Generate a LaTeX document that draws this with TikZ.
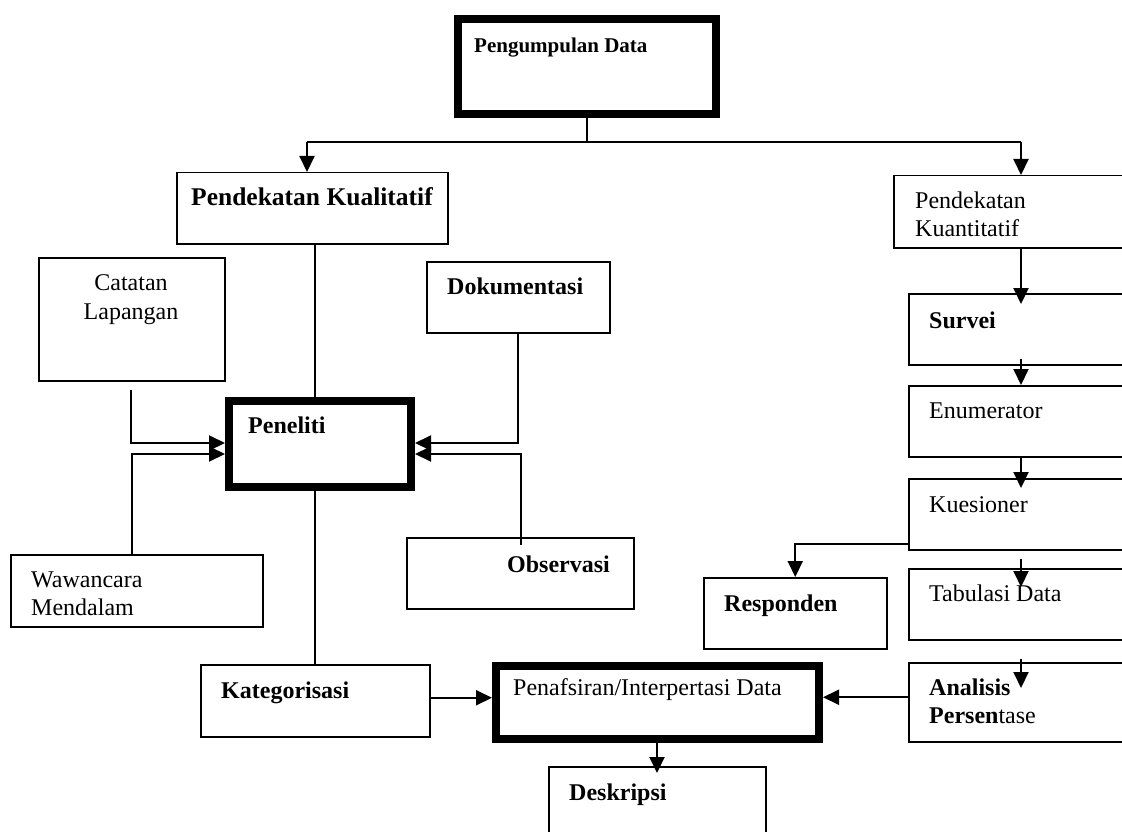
\documentclass[tikz,border=0pt]{standalone}
\usepackage{fontspec}
\setmainfont{Liberation Serif}
\usetikzlibrary{arrows.meta,calc}
\begin{document}
\begin{tikzpicture}[x=1pt,y=-1pt,
  box/.style={draw, line width=1.5pt, anchor=north west, inner sep=0pt},
  thickbox/.style={draw, line width=8pt, anchor=north west, inner sep=0pt},
  txt/.style={anchor=base west, inner sep=0pt, font=\fontsize{24}{28}\selectfont},
  btxt/.style={anchor=base west, inner sep=0pt, font=\fontsize{24}{28}\selectfont\bfseries},
  conn/.style={line width=2pt},
  arr/.style={line width=2pt, -{Triangle[length=16pt,width=15pt]}},
]
\fill[white] (0,0) rectangle (1122,832);
\useasboundingbox (0,0) rectangle (1122,832);

% boxes
\node[thickbox, minimum width=258pt, minimum height=95pt] (pd) at (454,15) {};
\node[box, minimum width=271pt, minimum height=71pt] (kual) at (176,172) {};
\node[box, minimum width=250pt, minimum height=72pt] (kuan) at (893,175) {};
\node[box, minimum width=235pt, minimum height=71pt] (survei) at (908,293) {};
\node[box, minimum width=235pt, minimum height=71pt] (enum) at (908,385) {};
\node[box, minimum width=235pt, minimum height=71pt] (kues) at (908,478) {};
\node[box, minimum width=235pt, minimum height=71pt] (tab) at (908,568) {};
\node[box, minimum width=235pt, minimum height=79pt] (ana) at (908,662) {};
\node[box, minimum width=183pt, minimum height=71pt] (resp) at (703,577) {};
\node[thickbox, minimum width=323pt, minimum height=73pt] (penaf) at (492,662) {};
\node[box, minimum width=217pt, minimum height=90pt] (desk) at (548,766) {};
\node[box, minimum width=229pt, minimum height=72pt] (kateg) at (200,664) {};
\node[thickbox, minimum width=182pt, minimum height=86pt] (pen) at (225,397) {};
\node[box, minimum width=186pt, minimum height=123pt] (cat) at (38,257) {};
\node[box, minimum width=252pt, minimum height=72pt] (waw) at (10,554) {};
\node[box, minimum width=183pt, minimum height=71pt] (dok) at (426,261) {};
\node[box, minimum width=227pt, minimum height=71pt] (obs) at (406,537) {};

% texts
\node[btxt, font=\fontsize{21}{24}\selectfont\bfseries] (t-pd) at (474,53) {Pengumpulan Data};
\node[btxt, font=\fontsize{25.5}{28}\selectfont\bfseries] (t-kual) at (191,205) {Pendekatan Kualitatif};
\node[txt] (t-kuan1) at (915,208) {Pendekatan};
\node[txt] (t-kuan2) at (915,236) {Kuantitatif};
\node[btxt] (t-survei) at (929,328) {Survei};
\node[txt] (t-enum) at (929,418) {Enumerator};
\node[txt] (t-kues) at (929,512) {Kuesioner};
\node[txt] (t-tab) at (929,601) {Tabulasi Data};
\node[btxt] (t-ana1) at (929,695) {Analisis};
\node[txt] (t-ana2) at (929,723) {{\bfseries Persen}tase};
\node[btxt] (t-resp) at (724,611) {Responden};
\node[txt] (t-penaf) at (513,695) {Penafsiran/Interpertasi Data};
\node[btxt] (t-desk) at (569,800) {Deskripsi};
\node[btxt] (t-kateg) at (221,698) {Kategorisasi};
\node[btxt] (t-pen) at (248,433) {Peneliti};
\node[txt, anchor=base] (t-cat1) at (131,290) {Catatan};
\node[txt, anchor=base] (t-cat2) at (131,319) {Lapangan};
\node[txt] (t-waw1) at (31,587) {Wawancara};
\node[txt] (t-waw2) at (31,615) {Mendalam};
\node[btxt] (t-dok) at (447,294) {Dokumentasi};
\node[btxt] (t-obs) at (507,572) {Observasi};

% helper coordinates
\coordinate (hl) at (307,142);
\coordinate (hr) at (1021,142);
\coordinate (vx) at (315,0);
\coordinate (dx) at (657,0);
\coordinate (wx) at (132,0);
\coordinate (ox) at (521,0);
\coordinate (ya) at (0,443);
\coordinate (yb) at (0,454);

% top split
\draw[conn] (pd.south) -- (pd.south |- hl);
\draw[conn] (hl) -- (hr);
\draw[arr] (hl) -- (hl |- kual.north);
\draw[arr] (hr) -- (hr |- kuan.north);

% right column
\draw[arr] (hr |- kuan.south) -- ($(hr |- survei.north)+(0,11)$);
\draw[arr] ($(hr |- survei.south)+(0,-7)$) -- (hr |- enum.north);
\draw[arr] (hr |- enum.south) -- ($(hr |- kues.north)+(0,10)$);
\draw[arr] ($(hr |- kues.south)+(0,8)$) -- ($(hr |- tab.north)+(0,19)$);
\draw[arr] ($(hr |- tab.south)+(0,18)$) -- ($(hr |- ana.north)+(0,26)$);
\coordinate (kr) at ($(kues.south west)+(0,-7)$);
\draw[arr] (kr) -| (resp.north);
\coordinate (ap) at ($(ana.west)+(0,-5)$);
\draw[arr] (ap) -- (ap -| penaf.east);

% bottom
\coordinate (ke) at ($(kateg.east)+(0,-3)$);
\draw[arr] (ke) -- (ke -| penaf.west);
\draw[arr] (penaf.south -| dx) -- ($(desk.north -| dx)+(0,7)$);

% qualitative column
\draw[conn] (kual.south -| vx) -- (pen.north -| vx);
\draw[conn] (pen.south -| vx) -- (kateg.north -| vx);
\draw[arr] ($(cat.south)+(-1,8)$) |- (ya -| pen.west);
\draw[arr] (waw.north -| wx) |- (yb -| pen.west);
\draw[arr] (dok.south) |- (ya -| pen.east);
\draw[arr] ($(obs.north -| ox)+(0,8)$) |- (yb -| pen.east);
\end{tikzpicture}
\end{document}
